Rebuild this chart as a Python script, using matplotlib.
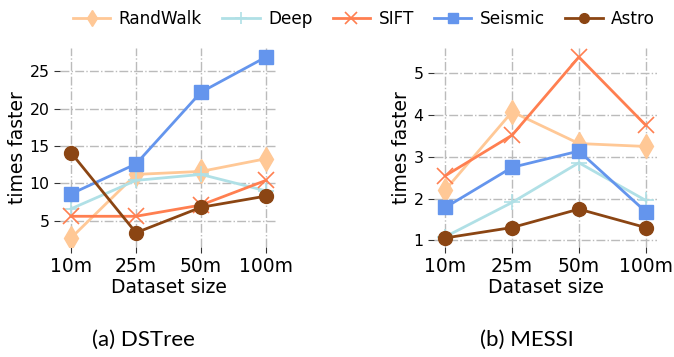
import matplotlib
matplotlib.use("Agg")
import matplotlib.pyplot as plt

sizes = ["10m", "25m", "50m", "100m"]
series = ["RandWalk", "Deep", "SIFT", "Seismic", "Astro"]

dstree_randwalk = [2.7, 11.2, 11.6, 13.3]
dstree_deep = [6.6, 10.4, 11.2, 9.0]
dstree_sift = [5.6, 5.6, 7.1, 10.4]
dstree_seismic = [8.6, 12.6, 22.2, 26.9]
dstree_astro = [14.1, 3.4, 6.8, 8.3]

messi_randwalk = [2.21, 4.08, 3.32, 3.25]
messi_deep = [1.09, 1.91, 2.86, 1.96]
messi_sift = [2.55, 3.52, 5.39, 3.76]
messi_seismic = [1.79, 2.75, 3.14, 1.69]
messi_astro = [1.06, 1.31, 1.75, 1.31]

colors = ["#FFC896", "#B0E0E6", "#FF7F50", "#6495ED", "#8B4513"]
markers = ["d", "+", "x", "s", "o"]

dstree = [dstree_randwalk, dstree_deep, dstree_sift, dstree_seismic, dstree_astro]
messi = [messi_randwalk, messi_deep, messi_sift, messi_seismic, messi_astro]

fig = plt.figure(figsize=(6.74, 3.57), dpi=100)
ax1 = fig.add_axes([60/674, 1 - 247/357, (277-60)/674, (247-48)/357])
ax2 = fig.add_axes([434/674, 1 - 247/357, (657-434)/674, (247-48)/357])

x = list(range(len(sizes)))
for ax, data in [(ax1, dstree), (ax2, messi)]:
    for name, vals, c, m in zip(series, data, colors, markers):
        mew = 1.2 if m in ("x", "+") else 1.0
        ms = 12 if m in ("x", "+", "d") else 10
        ax.plot(x, vals, color=c, marker=m, markersize=ms, linewidth=2,
                markeredgewidth=mew, label=name)
    ax.set_xticks(x)
    ax.set_xticklabels(sizes, fontsize=13.5)
    ax.tick_params(axis="y", labelsize=11.3, length=4, color="#333333")
    ax.tick_params(axis="x", length=4, color="#333333")
    ax.grid(True, color="#bbbbbb", linestyle="-.", linewidth=1)
    for s in ax.spines.values():
        s.set_visible(False)
    ax.set_xlabel("Dataset size", fontsize=13.5, labelpad=1)
    ax.set_ylabel("times faster", fontsize=13.5, labelpad=2)
    ax.set_xlim(-0.17, 3.17)

ax1.set_yticks([5, 10, 15, 20, 25])
ax2.set_yticks([1, 2, 3, 4, 5])

handles, labels = ax1.get_legend_handles_labels()
fig.legend(handles, labels, loc="center", bbox_to_anchor=(364/674, 1 - 19/357),
           ncol=5, frameon=False, fontsize=12.2, markerscale=0.7,
           handlelength=2.2, columnspacing=1.2, handletextpad=0.5)

fig.text(143/674, 1 - 340/357, "(a) DSTree", ha="center", va="center",
         fontsize=16, family="Lato")
fig.text(527/674, 1 - 340/357, "(b) MESSI", ha="center", va="center",
         fontsize=16, family="Lato")

fig.savefig("out.png", dpi=100)
